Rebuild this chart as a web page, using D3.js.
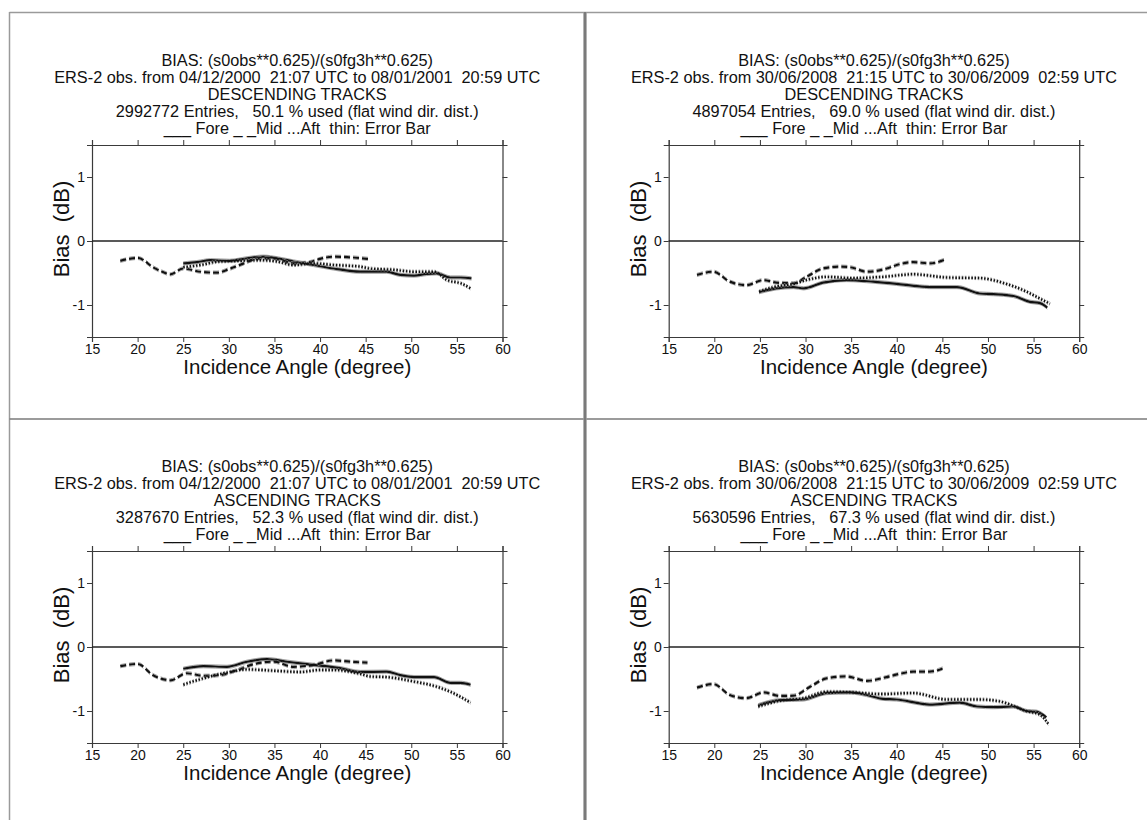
<!DOCTYPE html>
<html lang="en">

<head>
    <meta charset="UTF-8">
    <script src="https://cdn.jsdelivr.net/npm/d3@7"></script>
    <title>ERS-2 bias</title>
    <style>
        body {
            margin: 0;
            background: white;
        }

        text {
            font-family: "Liberation Sans", Arial, Helvetica, sans-serif;
            fill: #111;
            white-space: pre;
        }
    </style>
</head>

<body>
    <div class="figure"></div>

    <script>
        // bias (dB) vs incidence angle (degree)
        const p1Fore = [[25, -0.35], [26.5, -0.33], [28, -0.30], [30.1, -0.31], [32, -0.27], [33.8, -0.245], [35.3, -0.27], [37.1, -0.32], [39.3, -0.375], [41.5, -0.43], [44.4, -0.48], [47.3, -0.48], [48.8, -0.53], [50.3, -0.54], [51.7, -0.515], [52.8, -0.505], [54.3, -0.57], [55.4, -0.57], [56.6, -0.585]]
        const p1Mid = [[18.1, -0.31], [20, -0.265], [21.8, -0.42], [22.7, -0.48], [23.6, -0.52], [25, -0.43], [26.9, -0.48], [28.7, -0.495], [30, -0.44], [31.2, -0.375], [33.4, -0.27], [34.9, -0.27], [37.1, -0.35], [38.9, -0.33], [40, -0.28], [41.5, -0.245], [43.3, -0.255], [45.3, -0.28]]
        const p1Aft = [[25, -0.41], [26.9, -0.375], [29, -0.32], [31.2, -0.31], [33.4, -0.30], [35.3, -0.32], [37.1, -0.375], [39.3, -0.35], [41.5, -0.375], [44.4, -0.40], [45.5, -0.43], [48.1, -0.45], [50.3, -0.48], [52.5, -0.48], [53.9, -0.61], [55.4, -0.66], [56.5, -0.74]]

        const p2Fore = [[24.9, -0.80], [26.8, -0.74], [28.7, -0.72], [29.8, -0.74], [31.9, -0.65], [34.5, -0.61], [37.4, -0.635], [40, -0.67], [42.5, -0.71], [43.6, -0.72], [46.6, -0.72], [49.1, -0.82], [50.6, -0.83], [52.8, -0.86], [54.6, -0.95], [55.7, -0.97], [56.5, -1.04]]
        const p2Mid = [[18.1, -0.53], [19.9, -0.48], [21.7, -0.635], [23.5, -0.69], [25.4, -0.61], [26.8, -0.65], [28.7, -0.66], [30.1, -0.56], [31.9, -0.43], [33.8, -0.40], [34.9, -0.41], [36.7, -0.48], [38.9, -0.43], [40, -0.375], [41.8, -0.33], [43.6, -0.35], [45.3, -0.29]]
        const p2Aft = [[24.9, -0.79], [26.8, -0.71], [28.7, -0.67], [30.1, -0.61], [32.3, -0.56], [35.2, -0.58], [38.5, -0.56], [41.8, -0.52], [45.5, -0.57], [49.1, -0.58], [52, -0.67], [54.2, -0.79], [55.7, -0.90], [56.8, -0.98]]

        const p3Fore = [[25, -0.34], [27.2, -0.30], [29.8, -0.31], [32, -0.23], [34.2, -0.19], [36.4, -0.23], [39.3, -0.28], [42.2, -0.33], [44.4, -0.39], [47.3, -0.385], [48.8, -0.44], [50.3, -0.47], [52.5, -0.47], [54.3, -0.56], [55.4, -0.56], [56.5, -0.59]]
        const p3Mid = [[18.1, -0.30], [20, -0.265], [21.7, -0.44], [23.6, -0.52], [25.4, -0.41], [27.2, -0.45], [29, -0.44], [30.9, -0.36], [33.1, -0.255], [34.9, -0.23], [37.1, -0.31], [39.3, -0.28], [41.5, -0.21], [43.3, -0.23], [45.2, -0.245]]
        const p3Aft = [[25, -0.59], [27.2, -0.49], [29.8, -0.40], [32, -0.35], [34.9, -0.37], [37.8, -0.39], [40, -0.36], [41.5, -0.36], [44.4, -0.42], [45.5, -0.46], [47.3, -0.47], [50.3, -0.54], [52.8, -0.62], [54.3, -0.70], [56.5, -0.87]]

        const p4Fore = [[24.8, -0.91], [27.2, -0.83], [29.8, -0.82], [32.3, -0.72], [34.9, -0.71], [36.7, -0.75], [38.5, -0.81], [40, -0.82], [42.5, -0.88], [43.6, -0.90], [46.9, -0.87], [48.8, -0.93], [50.6, -0.94], [52.8, -0.93], [54.2, -1.0], [55.3, -1.01], [56.4, -1.10]]
        const p4Mid = [[18.1, -0.635], [19.9, -0.58], [21.7, -0.75], [23.5, -0.80], [25.4, -0.71], [27.2, -0.765], [28.7, -0.76], [30.5, -0.62], [32.3, -0.49], [34.5, -0.46], [36.7, -0.53], [38.9, -0.47], [40.3, -0.42], [41.8, -0.385], [43.6, -0.385], [45.3, -0.32]]
        const p4Aft = [[24.8, -0.93], [27.2, -0.84], [29.8, -0.80], [32.3, -0.70], [35.2, -0.71], [38.2, -0.735], [41.8, -0.72], [45.5, -0.82], [49.1, -0.82], [51.3, -0.85], [54.2, -1.0], [55.7, -1.06], [56.6, -1.20]]

        // half width of the thin error-bar lines (dB)
        const errorHalf = [0.025, 0.025, 0.025]

        const xTicks = [15, 20, 25, 30, 35, 40, 45, 50, 55, 60]
        const yTicks = [-1, 0, 1]

        const titleLine1 = "BIAS: (s0obs**0.625)/(s0fg3h**0.625)"
        const periods = [
            "ERS-2 obs. from 04/12/2000  21:07 UTC to 08/01/2001  20:59 UTC",
            "ERS-2 obs. from 30/06/2008  21:15 UTC to 30/06/2009  02:59 UTC",
            "ERS-2 obs. from 04/12/2000  21:07 UTC to 08/01/2001  20:59 UTC",
            "ERS-2 obs. from 30/06/2008  21:15 UTC to 30/06/2009  02:59 UTC"
        ]
        const tracks = ["DESCENDING TRACKS", "DESCENDING TRACKS", "ASCENDING TRACKS", "ASCENDING TRACKS"]
        const entries = [
            "2992772 Entries,   50.1 % used (flat wind dir. dist.)",
            "4897054 Entries,   69.0 % used (flat wind dir. dist.)",
            "3287670 Entries,   52.3 % used (flat wind dir. dist.)",
            "5630596 Entries,   67.3 % used (flat wind dir. dist.)"
        ]
        const legendLine = "___ Fore _ _Mid ...Aft  thin: Error Bar"

        const W = 1147, H = 820

        const svg = d3.select(".figure").append("svg")
            .attr("width", W)
            .attr("height", H)

        // page frame lines
        const frame = svg.append("g").attr("fill", "none")
        frame.append("line").attr("x1", 9.5).attr("x2", W).attr("y1", 12.5).attr("y2", 12.5)
            .attr("stroke", "#9a9a9a").attr("stroke-width", 1.5)
        frame.append("line").attr("x1", 9.5).attr("x2", 9.5).attr("y1", 12).attr("y2", H)
            .attr("stroke", "#9a9a9a").attr("stroke-width", 1.5)
        frame.append("line").attr("x1", 9.5).attr("x2", W).attr("y1", 419).attr("y2", 419)
            .attr("stroke", "#7a7a7a").attr("stroke-width", 1.5)
        frame.append("line").attr("x1", 585).attr("x2", 585).attr("y1", 12).attr("y2", H)
            .attr("stroke", "#9a9a9a").attr("stroke-width", 3.5)
        frame.append("line").attr("x1", 585).attr("x2", 585).attr("y1", 12).attr("y2", H)
            .attr("stroke", "#666").attr("stroke-width", 1.2)

        const panels = [
            { left: 92, top: 145, series: [p1Fore, p1Mid, p1Aft] },
            { left: 668.7, top: 145, series: [p2Fore, p2Mid, p2Aft] },
            { left: 92, top: 551, series: [p3Fore, p3Mid, p3Aft] },
            { left: 668.7, top: 551, series: [p4Fore, p4Mid, p4Aft] }
        ]

        const plotW = 410.5, plotH = 192
        const styles = [
            { dash: null, width: 2.2 },
            { dash: "6,3", width: 2.2 },
            { dash: "1.6,1.6", width: 2.4 }
        ]

        const GEN_PANEL = (p, i) => {
            const g = svg.append("g").attr("transform", `translate(${p.left},${p.top})`)
            const x = d3.scaleLinear().domain([15, 60]).range([0, plotW])
            const y = d3.scaleLinear().domain([-1.5, 1.5]).range([plotH, 0])

            // titles
            const lines = [titleLine1, periods[i], tracks[i], entries[i], legendLine]
            g.selectAll(".title")
                .data(lines)
                .enter()
                .append("text")
                .attr("class", "title")
                .attr("x", plotW / 2)
                .attr("y", (d, k) => -79 + k * 17)
                .attr("text-anchor", "middle")
                .style("font-size", "16.3px")
                .text(d => d)

            // axes, ticks outward on all sides
            const bottom = g.append("g").attr("transform", `translate(0,${plotH})`)
                .call(d3.axisBottom(x).tickValues(xTicks).tickSize(5).tickPadding(2).tickFormat(d => String(d)))
            const top = g.append("g")
                .call(d3.axisTop(x).tickValues(xTicks).tickSize(5).tickFormat(""))
            const left = g.append("g")
                .call(d3.axisLeft(y).tickValues(yTicks).tickSize(5).tickPadding(2).tickFormat(d => String(d)))
            const right = g.append("g").attr("transform", `translate(${plotW},0)`)
                .call(d3.axisRight(y).tickValues(yTicks).tickSize(5).tickFormat(""))
            ;[bottom, top, left, right].forEach(a => {
                a.select(".domain").attr("stroke", "#3a3a3a").attr("stroke-width", 1.2)
                a.selectAll(".tick line").attr("stroke", "#3a3a3a").attr("stroke-width", 1)
                a.selectAll(".tick text")
                    .style("font-family", "'Liberation Sans', Arial, sans-serif")
                    .style("font-size", "14px")
                    .attr("fill", "#111")
            })

            // zero line
            g.append("line")
                .attr("x1", 0).attr("x2", plotW)
                .attr("y1", y(0)).attr("y2", y(0))
                .attr("stroke", "#222").attr("stroke-width", 1.3)

            const line = d3.line()
                .x(d => x(d[0]))
                .y(d => y(d[1]))
                .curve(d3.curveMonotoneX)

            p.series.forEach((s, k) => {
                const e = errorHalf[k]
                ;[e, -e].forEach(off => {
                    g.append("path")
                        .datum(s.map(d => [d[0], d[1] + off]))
                        .attr("d", line)
                        .attr("fill", "none")
                        .attr("stroke", "#8a8a8a")
                        .attr("stroke-width", 0.8)
                        .attr("stroke-dasharray", styles[k].dash)
                })
                g.append("path")
                    .datum(s)
                    .attr("d", line)
                    .attr("fill", "none")
                    .attr("stroke", "#111")
                    .attr("stroke-width", styles[k].width)
                    .attr("stroke-dasharray", styles[k].dash)
            })

            // axis labels
            g.append("text")
                .attr("x", plotW / 2)
                .attr("y", plotH + 37)
                .attr("text-anchor", "middle")
                .style("font-size", "20.5px")
                .text("Incidence Angle (degree)")

            g.append("text")
                .attr("transform", `translate(-23,${plotH / 2 - 12}) rotate(-90)`)
                .attr("text-anchor", "middle")
                .style("font-size", "22px")
                .text("Bias  (dB)")
        }

        panels.forEach(GEN_PANEL)
    </script>
</body>

</html>
